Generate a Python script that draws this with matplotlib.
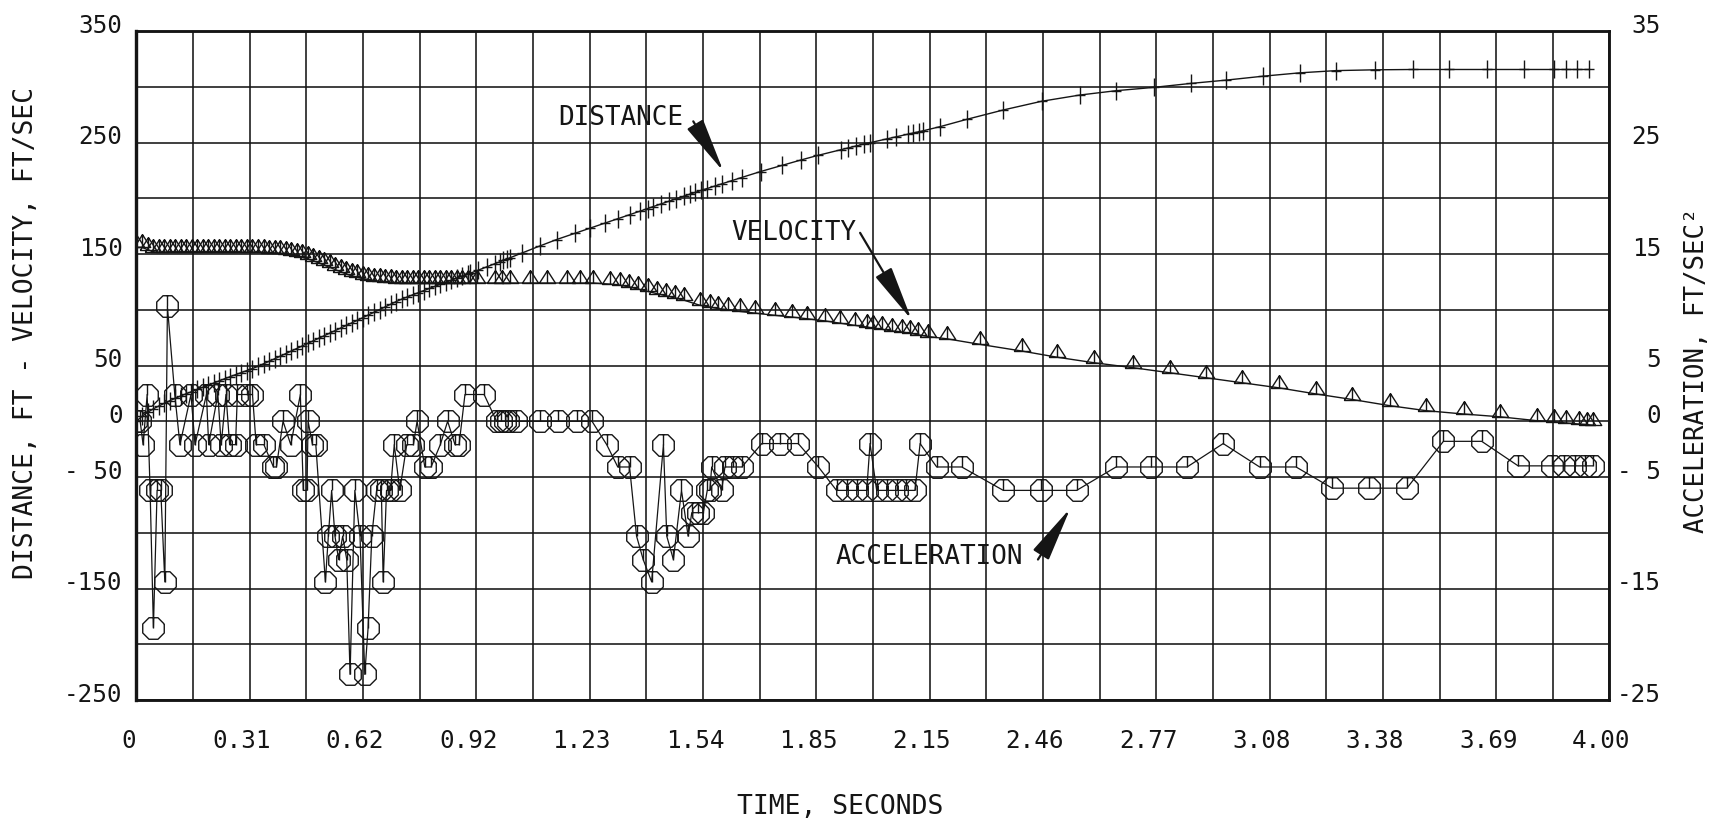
import numpy as np
import matplotlib.pyplot as plt
from matplotlib.path import Path
import matplotlib.transforms as mtransforms

plt.rcParams['font.family'] = ['DejaVu Sans Mono', 'DejaVu Sans']
plt.rcParams['font.size'] = 18

# ---- data (time in s, distance ft, velocity ft/s, acceleration ft/s^2) ----
dist_t = [0.000, 0.015, 0.030, 0.045, 0.060, 0.075, 0.090, 0.105, 0.120, 0.135,
          0.150, 0.165, 0.180, 0.195, 0.210, 0.225, 0.240, 0.255, 0.270, 0.285,
          0.300, 0.315, 0.330, 0.345, 0.360, 0.375, 0.390, 0.405, 0.420, 0.435,
          0.450, 0.465, 0.480, 0.495, 0.510, 0.525, 0.540, 0.555, 0.570, 0.585,
          0.600, 0.615, 0.630, 0.645, 0.660, 0.675, 0.690, 0.705, 0.720, 0.735,
          0.750, 0.765, 0.780, 0.795, 0.810, 0.825, 0.840, 0.855, 0.870, 0.885,
          0.900, 0.906, 0.928, 0.951, 0.973, 0.987, 0.996, 1.005, 1.014, 1.046,
          1.096, 1.141, 1.191, 1.232, 1.272, 1.308, 1.340, 1.367, 1.388, 1.403,
          1.424, 1.445, 1.466, 1.487, 1.502, 1.518, 1.533, 1.549, 1.570, 1.590,
          1.617, 1.643, 1.695, 1.752, 1.804, 1.851, 1.913, 1.933, 1.954, 1.975,
          1.991, 2.037, 2.063, 2.095, 2.110, 2.126, 2.136, 2.183, 2.256, 2.354,
          2.458, 2.562, 2.661, 2.764, 2.863, 2.960, 3.060, 3.159, 3.258, 3.362,
          3.466, 3.565, 3.668, 3.767, 3.850, 3.881, 3.913, 3.944]
distance = [0.0, 4.5, 8.0, 11.0, 13.6, 16.0, 18.4, 20.6, 22.7, 24.7,
            26.6, 28.5, 30.4, 32.4, 34.3, 36.3, 38.2, 40.1, 41.9, 43.7,
            45.5, 47.3, 49.3, 51.5, 53.7, 56.0, 58.3, 60.6, 62.9, 65.2,
            67.5, 69.8, 72.0, 74.3, 76.6, 79.0, 81.3, 83.6, 86.0, 88.3,
            90.6, 93.0, 95.3, 97.7, 100.1, 102.5, 104.9, 107.3, 109.5, 111.5,
            113.4, 115.3, 117.2, 119.1, 121.0, 122.9, 124.7, 126.5, 128.3, 130.2,
            132.0, 132.7, 135.5, 138.5, 141.3, 143.0, 144.2, 145.4, 146.6, 150.8,
            157.3, 163.0, 168.6, 173.2, 177.7, 181.8, 185.3, 188.4, 190.8, 192.5,
            194.9, 197.2, 199.6, 201.9, 203.6, 205.3, 207.0, 208.7, 210.9, 213.0,
            215.9, 218.6, 224.0, 229.4, 234.3, 238.5, 243.6, 245.2, 246.9, 248.6,
            249.8, 253.3, 255.2, 257.5, 258.6, 259.8, 260.5, 264.3, 270.9, 279.2,
            287.0, 292.6, 296.5, 299.5, 303.0, 306.0, 309.5, 312.5, 314.5, 315.2,
            315.5, 315.5, 315.5, 315.5, 315.5, 315.5, 315.5, 315.5]

vel_t = [0.000, 0.015, 0.030, 0.045, 0.060, 0.075, 0.090, 0.105, 0.120, 0.135,
         0.150, 0.165, 0.180, 0.195, 0.210, 0.225, 0.240, 0.255, 0.270, 0.285,
         0.300, 0.315, 0.330, 0.345, 0.360, 0.375, 0.390, 0.405, 0.420, 0.435,
         0.450, 0.465, 0.480, 0.495, 0.510, 0.525, 0.540, 0.555, 0.570, 0.585,
         0.600, 0.615, 0.630, 0.645, 0.660, 0.675, 0.690, 0.705, 0.720, 0.735,
         0.750, 0.765, 0.780, 0.795, 0.810, 0.825, 0.840, 0.855, 0.870, 0.885,
         0.900, 0.924, 0.974, 0.992, 1.015, 1.069, 1.115, 1.169, 1.205, 1.241,
         1.286, 1.313, 1.338, 1.363, 1.388, 1.413, 1.438, 1.463, 1.488, 1.530,
         1.557, 1.580, 1.607, 1.639, 1.680, 1.734, 1.779, 1.820, 1.870, 1.910,
         1.951, 1.983, 2.000, 2.024, 2.051, 2.078, 2.100, 2.123, 2.150, 2.200,
         2.290, 2.404, 2.499, 2.600, 2.707, 2.806, 2.905, 3.003, 3.102, 3.203,
         3.302, 3.403, 3.502, 3.604, 3.703, 3.803, 3.850, 3.881, 3.918, 3.939,
         3.954]
velocity = [156.0, 156.0, 154.0, 152.0, 151.5, 151.5, 152.0, 152.0, 152.0, 152.0,
            152.0, 152.0, 152.0, 152.0, 152.0, 152.0, 152.0, 152.0, 152.0, 151.5,
            151.5, 151.5, 151.5, 151.5, 151.0, 151.0, 150.5, 150.0, 149.5, 148.5,
            147.0, 145.5, 144.0, 142.0, 140.0, 138.0, 136.0, 134.0, 132.0, 130.5,
            129.0, 128.0, 127.0, 126.0, 125.5, 125.0, 124.5, 124.0, 124.0, 124.0,
            124.0, 124.0, 124.0, 124.0, 124.0, 124.0, 124.0, 124.0, 124.0, 124.0,
            124.0, 124.0, 124.0, 124.0, 124.0, 124.0, 124.0, 124.0, 124.0, 124.0,
            123.0, 122.0, 120.5, 118.5, 116.5, 114.5, 112.5, 110.5, 108.5, 104.0,
            102.5, 101.0, 100.0, 98.5, 97.0, 95.0, 93.5, 92.0, 90.0, 88.0,
            86.0, 84.5, 83.5, 82.5, 81.0, 80.0, 79.0, 77.5, 76.0, 74.0,
            69.0, 63.0, 57.5, 52.5, 48.0, 43.5, 39.0, 34.5, 30.0, 24.5,
            19.5, 14.0, 9.5, 6.5, 4.0, 0.5, -0.5, -1.5, -2.5, -3.0,
            -3.5]

accel_t = [0.000, 0.010, 0.018, 0.029, 0.037, 0.046, 0.056, 0.066, 0.077, 0.084,
           0.104, 0.118, 0.148, 0.159, 0.190, 0.196, 0.221, 0.230, 0.243, 0.253,
           0.269, 0.274, 0.300, 0.315, 0.325, 0.346, 0.372, 0.380, 0.398, 0.419,
           0.445, 0.453, 0.463, 0.466, 0.478, 0.487, 0.513, 0.521, 0.530, 0.539,
           0.549, 0.560, 0.571, 0.580, 0.593, 0.607, 0.620, 0.629, 0.639, 0.652,
           0.665, 0.670, 0.679, 0.690, 0.700, 0.715, 0.734, 0.752, 0.762, 0.783,
           0.800, 0.825, 0.845, 0.865, 0.876, 0.892, 0.944, 0.978, 0.990, 1.000,
           1.010, 1.030, 1.096, 1.146, 1.196, 1.237, 1.277, 1.307, 1.339, 1.358,
           1.376, 1.399, 1.431, 1.440, 1.458, 1.480, 1.498, 1.508, 1.526, 1.539,
           1.550, 1.557, 1.562, 1.589, 1.598, 1.621, 1.644, 1.698, 1.747, 1.797,
           1.852, 1.901, 1.929, 1.956, 1.983, 1.992, 2.010, 2.037, 2.064, 2.091,
           2.114, 2.128, 2.173, 2.241, 2.354, 2.455, 2.553, 2.660, 2.754, 2.853,
           2.951, 3.050, 3.149, 3.247, 3.346, 3.450, 3.549, 3.653, 3.752, 3.845,
           3.876, 3.907, 3.934, 3.954]
acceleration = [0.0, 0.0, -2.1, 2.4, -6.2, -18.5, -6.2, -6.2, -14.4, 10.3,
                2.4, -2.1, 2.4, -2.1, 2.4, -2.1, 2.4, -2.1, 2.4, -2.1,
                -2.1, 2.4, 2.4, 2.4, -2.1, -2.1, -4.1, -4.1, 0.0, -2.1,
                2.4, -6.2, -6.2, 0.0, -2.1, -2.1, -14.4, -10.3, -6.2, -10.3,
                -12.4, -10.3, -12.4, -22.7, -6.2, -10.3, -22.7, -18.5, -10.3, -6.2,
                -6.2, -14.4, -6.2, -6.2, -2.1, -6.2, -2.1, -2.1, 0.0, -4.1,
                -4.1, -2.1, 0.0, -2.1, -2.1, 2.4, 2.4, 0.0, 0.0, 0.0,
                0.0, 0.0, 0.0, 0.0, 0.0, 0.0, -2.1, -4.1, -4.1, -10.3,
                -12.4, -14.4, -2.1, -10.3, -12.4, -6.2, -10.3, -8.2, -8.2, -8.2,
                -6.2, -6.2, -4.1, -6.2, -4.1, -4.1, -4.1, -2.0, -2.0, -2.0,
                -4.1, -6.2, -6.2, -6.2, -6.2, -2.0, -6.2, -6.2, -6.2, -6.2,
                -6.2, -2.0, -4.1, -4.1, -6.2, -6.2, -6.2, -4.1, -4.1, -4.1,
                -2.0, -4.1, -4.1, -6.0, -6.0, -6.0, -1.8, -1.8, -4.0, -4.0,
                -4.0, -4.0, -4.0, -4.0]

time_labels = ['0', '0.31', '0.62', '0.92', '1.23', '1.54', '1.85', '2.15',
               '2.46', '2.77', '3.08', '3.38', '3.69', '4.00']
left_ticks = [350, 250, 150, 50, 0, -50, -150, -250]
left_labels = ['350', '250', '150', '50', '0', '- 50', '-150', '-250']
right_ticks = [35, 25, 15, 5, 0, -5, -15, -25]
right_labels = ['35', '25', '15', '5', '0', '- 5', '-15', '-25']

INK = '#151515'

# plotter symbols
M, L = Path.MOVETO, Path.LINETO
plus_sym = Path([(0, -1), (0, 1), (-0.6, 0), (0.6, 0)], [M, L, M, L])
tri_sym = Path([(-0.64, 0), (0.64, 0), (0, 1), (-0.64, 0), (0, 1), (0, 0)],
               [M, L, L, L, M, L])
ang = np.deg2rad(22.5 + 45 * np.arange(9))
oct_verts = list(zip(np.cos(ang), np.sin(ang))) + [(0, np.cos(np.deg2rad(22.5))), (0, 0)]
oct_sym = Path(oct_verts, [M] + [L] * 8 + [M, L])

fig = plt.figure(figsize=(17.21, 8.25), dpi=100)
ax = fig.add_axes([0.0793, 0.1515, 0.8559, 0.8109])
ax2 = ax.twinx()

ax.set_xlim(0, 4)
ax.set_ylim(-250, 350)
ax2.set_ylim(-25, 35)

# grid: 26 columns, 12 rows
xgrid = np.linspace(0, 4, 27)
ax.set_xticks(xgrid)
ax.set_xticklabels([time_labels[i // 2] if i % 2 == 0 else '' for i in range(27)])
ygrid = np.arange(-250, 351, 50)
ax.set_yticks(ygrid)
ax.set_yticklabels([left_labels[left_ticks.index(v)] if v in left_ticks else '' for v in ygrid])
ax2.set_yticks(right_ticks)
ax2.set_yticklabels(right_labels)

ax.grid(True, color=INK, lw=1.15)
ax.set_axisbelow(True)
ax.tick_params(axis='x', length=0, pad=21, labelsize=17.5, colors=INK)
ax.tick_params(axis='y', length=0, pad=10, labelsize=17.5, colors=INK)
ax2.tick_params(axis='y', length=0, pad=37, labelsize=17.5, colors=INK)
for lab in ax2.get_yticklabels():
    lab.set_ha('right')

up = mtransforms.ScaledTranslation(0, 0.08, fig.dpi_scale_trans)
left_shift = mtransforms.ScaledTranslation(-0.08, 0, fig.dpi_scale_trans)
for lab in ax.get_yticklabels() + ax2.get_yticklabels():
    lab.set_transform(lab.get_transform() + up)
for lab in ax.get_xticklabels():
    lab.set_transform(lab.get_transform() + left_shift)

for a in (ax, ax2):
    for side, sp in a.spines.items():
        sp.set_color(INK)
        sp.set_linewidth(2.3 if side == 'left' else 1.8)

ax.plot(dist_t, distance, color=INK, lw=1.0, marker=plus_sym, ms=12.5,
        mew=1.0, zorder=3)
ax.plot(vel_t, velocity, color=INK, lw=1.0, marker=tri_sym, ms=18.5,
        mfc='none', mec=INK, mew=1.0, zorder=3)
ax2.plot(accel_t, acceleration, color=INK, lw=0.9, marker=oct_sym, ms=15.5,
         mfc='none', mec=INK, mew=1.0, zorder=3)

# callouts
arrow = dict(arrowstyle='-|>,head_length=1.9,head_width=0.32', color=INK,
             lw=1.6, shrinkA=0, shrinkB=0)
ax.text(1.315, 272, 'DISTANCE', ha='center', va='center', color=INK, fontsize=18.7)
ax.annotate('', xy=(1.594, 224), xytext=(1.512, 269), arrowprops=arrow)
ax.text(1.786, 168.7, 'VELOCITY', ha='center', va='center', color=INK, fontsize=18.7)
ax.annotate('', xy=(2.105, 91), xytext=(1.965, 169), arrowprops=arrow)
ax2.text(2.154, -12.2, 'ACCELERATION', ha='center', va='center', color=INK,
         fontsize=18.7)
ax2.annotate('', xy=(2.536, -7.8), xytext=(2.448, -12.4), arrowprops=arrow)

fig.text(26 / 1721, 1 - 333 / 825, 'DISTANCE, FT - VELOCITY, FT/SEC',
         rotation=90, ha='center', va='center', color=INK, fontsize=19)
fig.text(1697 / 1721, 1 - 370 / 825, 'ACCELERATION, FT/SEC\u00b2',
         rotation=90, ha='center', va='center', color=INK, fontsize=18.5)
fig.text(840 / 1721, 1 - 807 / 825, 'TIME, SECONDS', ha='center', va='center',
         color=INK, fontsize=19)

fig.savefig('out.png', dpi=100)
